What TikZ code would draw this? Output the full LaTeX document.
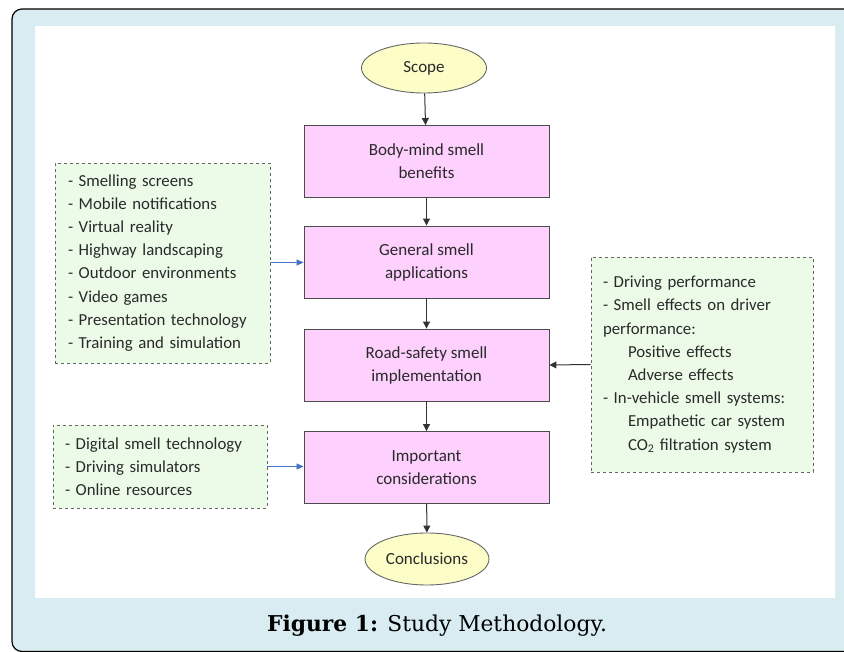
\documentclass[tikz,border=0pt]{standalone}
\usepackage{fontspec}
\setmainfont{Carlito}
\newfontfamily\capfont{DejaVu Serif}
\usepackage{xcolor}
\usetikzlibrary{arrows.meta, shapes.geometric}

\definecolor{framebg}{HTML}{D8ECF1}
\definecolor{stepfill}{HTML}{FDD0FD}
\definecolor{endfill}{HTML}{FDFDC8}
\definecolor{notefill}{HTML}{EBFBE8}
\definecolor{txtgray}{HTML}{2A2A2A}
\definecolor{linkblue}{HTML}{4472C4}

\tikzset{
  stepbox/.style={draw=black!70, line width=0.9pt, fill=stepfill, text=txtgray,
    minimum width=245pt, minimum height=72pt, align=center,
    font=\fontsize{17}{23}\selectfont},
  endoval/.style={ellipse, draw=black!60, line width=0.9pt, fill=endfill, text=txtgray,
    inner sep=0pt, font=\fontsize{17}{23}\selectfont},
  notebox/.style={draw=black!60, dashed, line width=0.9pt, fill=notefill, text=txtgray,
    align=left, inner ysep=0pt, font=\fontsize{16.8}{23.2}\selectfont},
  flow/.style={-{Triangle[width=7pt,length=7pt]}, line width=1pt, draw=black!80},
  feed/.style={-{Triangle[width=6pt,length=7pt]}, line width=0.7pt, draw=linkblue}
}

\begin{document}
\begin{tikzpicture}[x=1pt, y=-1pt]
  \useasboundingbox (0,0) rectangle (844,652);
  \clip (0,0) rectangle (844,652);
  % frame and white panel
  \draw[fill=framebg, line width=1.2pt, rounded corners=10pt] (12,9) rectangle (880,651.5);
  \fill[white] (35,26) rectangle (835,598);

  % main flow
  \node[endoval, minimum width=125pt, minimum height=50pt] (scope) at (424,68) {Scope};
  \node[stepbox] (bodymind) at (426.5,161.5) {Body-mind smell\\benefits};
  \node[stepbox] (general) at (426.5,262) {General smell\\applications};
  \node[stepbox] (roadsafety) at (426.5,365) {Road-safety smell\\implementation};
  \node[stepbox] (important) at (426.5,467.5) {Important\\considerations};
  \node[endoval, minimum width=124pt, minimum height=52pt] (concl) at (427,559) {Conclusions};

  % side notes
  \node[notebox, minimum width=215pt, minimum height=200pt, text width=189pt] (apps) at (162.5,263)
    {- Smelling screens\\- Mobile notifications\\- Virtual reality\\- Highway landscaping\\
     - Outdoor environments\\- Video games\\- Presentation technology\\- Training and simulation};
  \node[notebox, minimum width=222pt, minimum height=215pt, text width=198pt] (driving) at (702,364.5)
    {- Driving performance\\- Smell effects on driver\\performance:\\
     \hspace*{25pt}Positive effects\\\hspace*{25pt}Adverse effects\\
     - In-vehicle smell systems:\\\hspace*{25pt}Empathetic car system\\
     \hspace*{25pt}CO\textsubscript{2} filtration system\\[6pt]};
  \node[notebox, minimum width=214pt, minimum height=83pt, text width=190pt] (resources) at (160,466.5)
    {- Digital smell technology\\- Driving simulators\\- Online resources};

  % connectors
  \draw[flow] (scope) -- (bodymind);
  \draw[flow] (bodymind) -- (general);
  \draw[flow] (general) -- (roadsafety);
  \draw[flow] (roadsafety) -- (important);
  \draw[flow] (important) -- (concl);
  \draw[feed] (apps) -- (general);
  \draw[feed] (resources.east) -- (resources.east -| important.west);
  \draw[flow] (driving.west) -- (roadsafety.east);

  % caption
  \node[font=\capfont\fontsize{21.8}{26}\selectfont, text=black] (caption) at (437,626)
    {\textbf{Figure 1:} Study Methodology.};
\end{tikzpicture}
\end{document}
